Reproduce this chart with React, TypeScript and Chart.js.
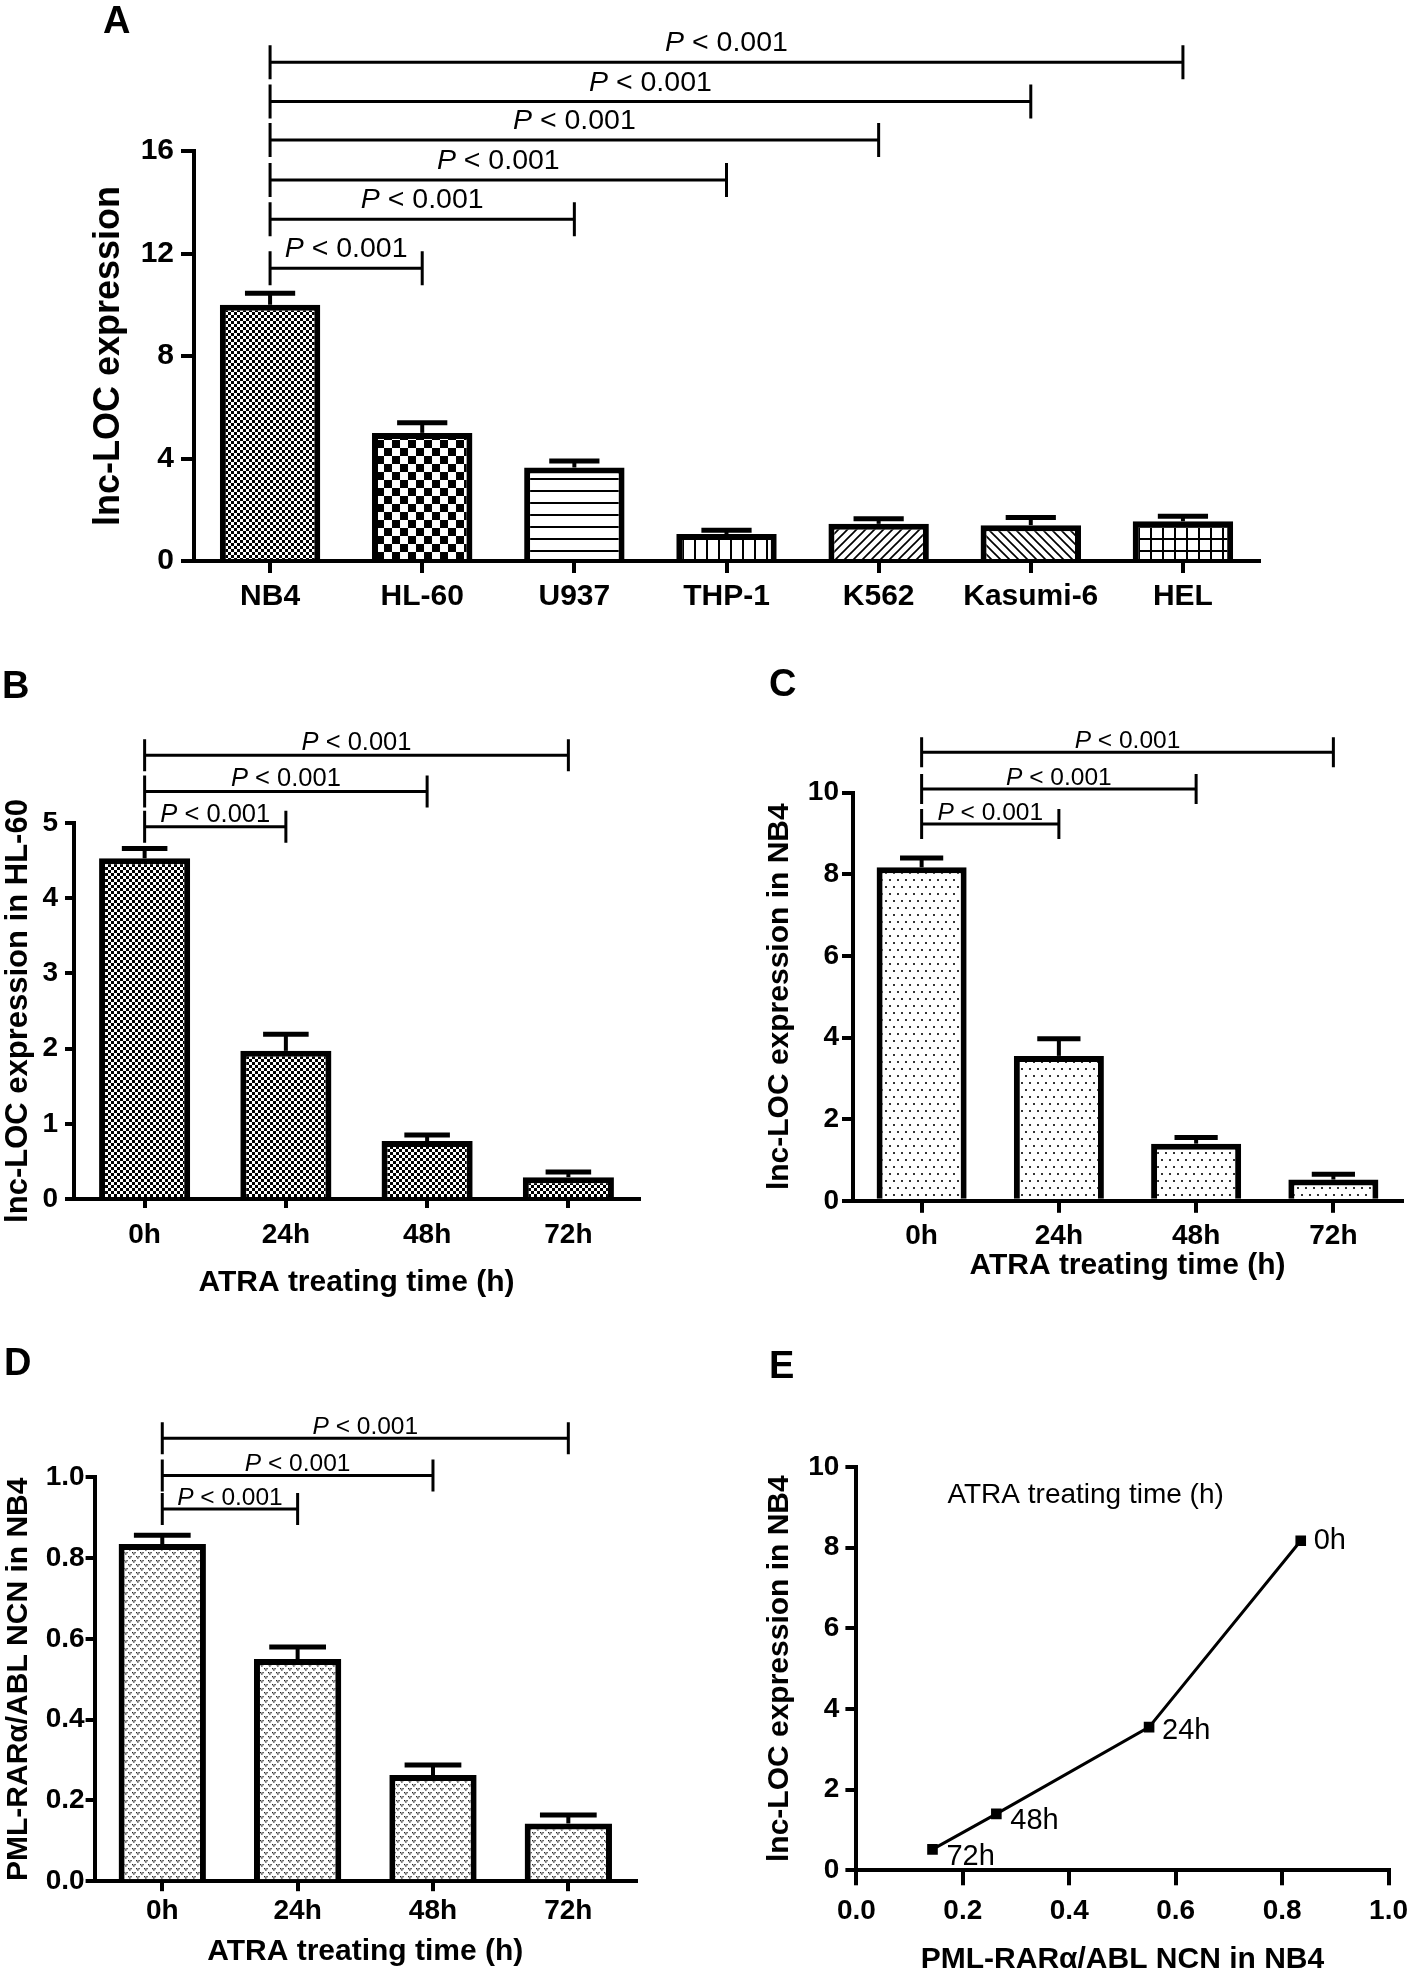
import React, { useEffect, useRef } from 'react';
import { Chart, registerables } from 'chart.js';

Chart.register(...registerables);

const FONT = '"Liberation Sans", Arial, Helvetica, sans-serif';
Chart.defaults.font.family = FONT;
Chart.defaults.color = '#000';

// ---------------- data ----------------
const cellLines = ['NB4', 'HL-60', 'U937', 'THP-1', 'K562', 'Kasumi-6', 'HEL'];
const cellExpression = [10.0, 5.0, 3.65, 1.05, 1.45, 1.4, 1.55];
const cellExpressionSem = [0.45, 0.4, 0.25, 0.15, 0.2, 0.3, 0.2];
const cellBracketLevels = [11.42, 13.34, 14.87, 16.43, 17.93, 19.46];
const cellBracketTargets = [1, 2, 3, 4, 5, 6];

const timeLabels = ['0h', '24h', '48h', '72h'];
const timeBracketTargets = [1, 2, 3];

const hl60Expression = [4.53, 1.97, 0.77, 0.29];
const hl60Sem = [0.13, 0.22, 0.08, 0.07];
const hl60BracketLevels = [4.95, 5.42, 5.9];

const nb4Expression = [8.17, 3.55, 1.4, 0.52];
const nb4Sem = [0.23, 0.42, 0.15, 0.13];
const nb4BracketLevels = [9.23, 10.09, 10.99];

const pmlRaraNcn = [0.835, 0.55, 0.263, 0.143];
const pmlRaraSem = [0.022, 0.03, 0.025, 0.021];
const pmlBracketLevels = [0.922, 1.005, 1.097];

const pValueText = ['P', ' < 0.001'];
const yTitleA = 'lnc-LOC expression';
const yTitleB = 'lnc-LOC expression in HL-60';
const yTitleNB4 = 'lnc-LOC expression in NB4';
const yTitleD = 'PML-RARα/ABL NCN in NB4';
const xTitleTime = 'ATRA treating time (h)';
const xTitleE = 'PML-RARα/ABL NCN in NB4';
const eAnnotation = 'ATRA treating time (h)';

// ---------------- patterns ----------------
function makePattern(kind: string): CanvasPattern {
  const c = document.createElement('canvas');
  const sizes: any = {
    checkFine: [6, 6], checkBold: [16, 16], hLines: [12, 12], vLines: [12, 12],
    fwd: [9, 9], back: [9, 9], grid: [12, 12], dots: [8, 14], chev: [8, 8],
  };
  const [w, h] = sizes[kind];
  c.width = w; c.height = h;
  const ctx = c.getContext('2d')!;
  ctx.fillStyle = '#fff';
  ctx.fillRect(0, 0, w, h);
  ctx.fillStyle = '#000';
  ctx.strokeStyle = '#000';
  switch (kind) {
    case 'checkFine':
      ctx.fillRect(0, 0, 3, 3); ctx.fillRect(3, 3, 3, 3); break;
    case 'checkBold':
      ctx.fillRect(0, 0, 8, 8); ctx.fillRect(8, 8, 8, 8); break;
    case 'hLines':
      ctx.fillRect(0, 10, 12, 2); break;
    case 'vLines':
      ctx.fillRect(10, 0, 2, 12); break;
    case 'grid':
      ctx.fillRect(10, 0, 2, 12); ctx.fillRect(0, 10, 12, 2); break;
    case 'fwd':
    case 'back': {
      ctx.lineWidth = 1.7;
      const segs = kind === 'fwd'
        ? [[-2, w + 2, w + 2, -2], [-2, 2, 2, -2], [w - 2, w + 2, w + 2, w - 2]]
        : [[-2, -2, w + 2, h + 2], [-2, h - 2, 2, h + 2], [w - 2, -2, w + 2, 2]];
      segs.forEach(([a, b, cc, d]) => { ctx.beginPath(); ctx.moveTo(a, b); ctx.lineTo(cc, d); ctx.stroke(); });
      break;
    }
    case 'dots':
      ctx.fillStyle = '#333';
      ctx.fillRect(1, 2, 2, 2); ctx.fillRect(5, 9, 2, 2); break;
    case 'chev': {
      ctx.fillStyle = '#222';
      const v = (x: number, y: number) => {
        ctx.fillRect(x, y, 1.3, 1.3); ctx.fillRect(x + 2.4, y, 1.3, 1.3); ctx.fillRect(x + 1.2, y + 1.3, 1.3, 1.4);
      };
      v(0, 0); v(4, 4);
      break;
    }
  }
  return ctx.createPattern(c, 'repeat')!;
}

// ---------------- drawing helpers ----------------
function drawPLabel(ctx: CanvasRenderingContext2D, cx: number, baseY: number, size: number) {
  const it = `italic ${size}px ${FONT}`;
  const rg = `${size}px ${FONT}`;
  ctx.font = it;
  const wP = ctx.measureText(pValueText[0]).width;
  ctx.font = rg;
  const wR = ctx.measureText(pValueText[1]).width;
  const x = cx - (wP + wR) / 2;
  ctx.textAlign = 'left';
  ctx.textBaseline = 'alphabetic';
  ctx.fillStyle = '#000';
  ctx.font = it;
  ctx.fillText(pValueText[0], x, baseY);
  ctx.font = rg;
  ctx.fillText(pValueText[1], x + wP, baseY);
}

function drawLetter(ctx: CanvasRenderingContext2D, letter: string, x: number, y: number) {
  ctx.save();
  ctx.font = `bold 38px ${FONT}`;
  ctx.fillStyle = '#000';
  ctx.textAlign = 'left';
  ctx.textBaseline = 'alphabetic';
  ctx.fillText(letter, x, y);
  ctx.restore();
}

type Frame = { W: number; H: number; L: number; T: number; R: number; B: number };

function gridOpts(tickLength: number) {
  return {
    display: true, drawOnChartArea: false, drawTicks: true, tickLength,
    tickWidth: 4, tickColor: '#000', color: '#000', lineWidth: 4, offset: false,
  };
}
const borderOpts = { display: true, color: '#000', width: 4 };

function barConfig(p: any) {
  const f: Frame = p.frame;
  const annot = {
    id: 'annot',
    afterDatasetsDraw(chart: any) {
      const ctx = chart.ctx as CanvasRenderingContext2D;
      const xs = chart.scales.x;
      const ys = chart.scales.y;
      const meta = chart.getDatasetMeta(0);
      ctx.save();
      ctx.strokeStyle = '#000';
      ctx.lineCap = 'butt';
      // error bars (SEM, upper only)
      meta.data.forEach((bar: any, i: number) => {
        const top = ys.getPixelForValue(p.values[i] + p.errs[i]);
        const capW = bar.width * p.capFrac;
        ctx.lineWidth = 4;
        ctx.beginPath(); ctx.moveTo(bar.x, bar.y); ctx.lineTo(bar.x, top); ctx.stroke();
        ctx.lineWidth = 5;
        ctx.beginPath(); ctx.moveTo(bar.x - capW / 2, top); ctx.lineTo(bar.x + capW / 2, top); ctx.stroke();
      });
      // significance brackets
      p.levels.forEach((lv: number, k: number) => {
        const x0 = xs.getPixelForValue(0);
        const x1 = xs.getPixelForValue(p.targets[k]);
        const y = ys.getPixelForValue(lv);
        ctx.lineWidth = 3;
        ctx.beginPath();
        ctx.moveTo(x0, y); ctx.lineTo(x1, y);
        ctx.moveTo(x0, y - p.bTick); ctx.lineTo(x0, y + p.bTick);
        ctx.moveTo(x1, y - p.bTick); ctx.lineTo(x1, y + p.bTick);
        ctx.stroke();
        drawPLabel(ctx, (x0 + x1) / 2, y - p.bGap, p.pSize);
      });
      ctx.restore();
      drawLetter(ctx, p.letter, p.letterX, p.letterY);
    },
  };
  return {
    type: 'bar',
    data: {
      labels: p.labels,
      datasets: [{
        data: p.values,
        backgroundColor: p.fills,
        borderColor: '#000',
        borderWidth: 6,
        barPercentage: p.barPct,
        categoryPercentage: 1,
      }],
    },
    options: {
      responsive: false,
      animation: false,
      devicePixelRatio: 1,
      layout: { padding: { left: 0, top: f.T, right: f.W - f.R, bottom: 0 } },
      plugins: { legend: { display: false }, tooltip: { enabled: false } },
      scales: {
        x: {
          type: 'category',
          offset: true,
          border: borderOpts,
          grid: gridOpts(p.xTickLen),
          ticks: { font: { size: p.xTickFont, weight: 'bold' }, color: '#000', padding: p.xTickPad, maxRotation: 0, autoSkip: false },
          title: p.xTitle
            ? { display: true, text: p.xTitle, color: '#000', font: { size: 30, weight: 'bold' }, padding: { top: 0, bottom: p.xTitlePad } }
            : { display: false },
          afterFit: (s: any) => { s.height = f.H - f.B; },
        },
        y: {
          type: 'linear',
          min: p.yMin, max: p.yMax,
          border: borderOpts,
          grid: gridOpts(p.yTickLen),
          ticks: {
            stepSize: p.yStep, font: { size: p.yTickFont, weight: 'bold' }, color: '#000', padding: p.yTickPad,
            callback: p.yFmt ? p.yFmt : (v: any) => String(v),
          },
          title: { display: true, text: p.yTitle, color: '#000', font: { size: p.yTitleSize, weight: 'bold' }, padding: { top: p.yTitlePad, bottom: 0 } },
          afterFit: (s: any) => { s.width = f.L; },
        },
      },
    },
    plugins: [annot],
  };
}

function scatterConfig() {
  const f: Frame = { W: 717, H: 660, L: 156.4, T: 127, R: 697.3, B: 530.3 };
  const labelDx = [13, 13, 14, 14];
  const labelDy = [0, 4, 7, 8];
  const annot = {
    id: 'annotE',
    afterDatasetsDraw(chart: any) {
      const ctx = chart.ctx as CanvasRenderingContext2D;
      const xs = chart.scales.x;
      const ys = chart.scales.y;
      ctx.save();
      ctx.fillStyle = '#000';
      ctx.textAlign = 'left';
      ctx.textBaseline = 'middle';
      ctx.font = `29px ${FONT}`;
      pmlRaraNcn.forEach((x, i) => {
        ctx.fillText(timeLabels[i], xs.getPixelForValue(x) + labelDx[i], ys.getPixelForValue(nb4Expression[i]) + labelDy[i]);
      });
      ctx.font = `28px ${FONT}`;
      ctx.fillText(eAnnotation, xs.getPixelForValue(0.171), ys.getPixelForValue(9.31));
      ctx.restore();
      drawLetter(ctx, 'E', 69, 38);
    },
  };
  return {
    type: 'scatter',
    data: {
      datasets: [{
        data: pmlRaraNcn.map((x, i) => ({ x, y: nb4Expression[i] })),
        showLine: true,
        borderColor: '#000',
        borderWidth: 3,
        backgroundColor: '#000',
        pointStyle: 'rect',
        pointRadius: 7.5,
        pointBackgroundColor: '#000',
        pointBorderWidth: 0,
      }],
    },
    options: {
      responsive: false,
      animation: false,
      devicePixelRatio: 1,
      layout: { padding: { left: 0, top: f.T, right: f.W - f.R, bottom: 0 } },
      plugins: { legend: { display: false }, tooltip: { enabled: false } },
      scales: {
        x: {
          type: 'linear', position: 'bottom', min: 0, max: 1,
          border: borderOpts,
          grid: gridOpts(15),
          ticks: { stepSize: 0.2, font: { size: 28, weight: 'bold' }, color: '#000', padding: 9, maxRotation: 0, callback: (v: any) => Number(v).toFixed(1) },
          title: { display: true, text: xTitleE, color: '#000', font: { size: 30, weight: 'bold' }, padding: { top: 0, bottom: 22 } },
          afterFit: (s: any) => { s.height = f.H - f.B; },
        },
        y: {
          type: 'linear', min: 0, max: 10,
          border: borderOpts,
          grid: gridOpts(11),
          ticks: { stepSize: 2, font: { size: 28, weight: 'bold' }, color: '#000', padding: 6 },
          title: { display: true, text: yTitleNB4, color: '#000', font: { size: 30, weight: 'bold' }, padding: { top: 62, bottom: 0 } },
          afterFit: (s: any) => { s.width = f.L; },
        },
      },
    },
    plugins: [annot],
  };
}

function ChartBox(props: { left: number; top: number; width: number; height: number; make: () => any }) {
  const ref = useRef<HTMLCanvasElement>(null);
  useEffect(() => {
    const chart = new Chart(ref.current as HTMLCanvasElement, props.make());
    return () => chart.destroy();
  }, []);
  return (
    <canvas
      ref={ref}
      width={props.width}
      height={props.height}
      style={{ position: 'absolute', left: props.left, top: props.top, width: props.width, height: props.height }}
    />
  );
}

export default function App() {
  useEffect(() => {
    document.body.style.margin = '0';
    document.body.style.overflow = 'hidden';
  }, []);

  const makeA = () => barConfig({
    frame: { W: 1417, H: 640, L: 194, T: 151, R: 1259, B: 561 },
    labels: cellLines, values: cellExpression, errs: cellExpressionSem,
    fills: ['checkFine', 'checkBold', 'hLines', 'vLines', 'fwd', 'back', 'grid'].map(makePattern),
    barPct: 0.66, capFrac: 0.5,
    yMin: 0, yMax: 16, yStep: 4, yTickFont: 30, xTickFont: 30,
    yTickLen: 13, yTickPad: 7, xTickLen: 12, xTickPad: 6,
    yTitle: yTitleA, yTitleSize: 36, yTitlePad: 87,
    levels: cellBracketLevels, targets: cellBracketTargets, bTick: 17, bGap: 11, pSize: 28.5,
    letter: 'A', letterX: 103, letterY: 33,
  });
  const makeB = () => barConfig({
    frame: { W: 700, H: 680, L: 74, T: 163, R: 639, B: 539 },
    labels: timeLabels, values: hl60Expression, errs: hl60Sem,
    fills: timeLabels.map(() => makePattern('checkFine')),
    barPct: 0.645, capFrac: 0.5,
    yMin: 0, yMax: 5, yStep: 1, yTickFont: 28, xTickFont: 28,
    yTickLen: 9, yTickPad: 7, xTickLen: 9, xTickPad: 10,
    yTitle: yTitleB, yTitleSize: 31, yTitlePad: 0,
    xTitle: xTitleTime, xTitlePad: 39,
    levels: hl60BracketLevels, targets: timeBracketTargets, bTick: 16, bGap: 5, pSize: 25.5,
    letter: 'B', letterX: 2, letterY: 38,
  });
  const makeC = () => barConfig({
    frame: { W: 717, H: 680, L: 153, T: 132.6, R: 702, B: 540.8 },
    labels: timeLabels, values: nb4Expression, errs: nb4Sem,
    fills: timeLabels.map(() => makePattern('dots')),
    barPct: 0.656, capFrac: 0.48,
    yMin: 0, yMax: 10, yStep: 2, yTickFont: 28, xTickFont: 28,
    yTickLen: 11, yTickPad: 3, xTickLen: 12, xTickPad: 7,
    yTitle: yTitleNB4, yTitleSize: 30, yTitlePad: 62,
    xTitle: xTitleTime, xTitlePad: 56,
    levels: nb4BracketLevels, targets: timeBracketTargets, bTick: 15, bGap: 4, pSize: 24.5,
    letter: 'C', letterX: 69, letterY: 36,
  });
  const makeD = () => barConfig({
    frame: { W: 700, H: 630, L: 94.6, T: 137.4, R: 636, B: 541.2 },
    labels: timeLabels, values: pmlRaraNcn, errs: pmlRaraSem,
    fills: timeLabels.map(() => makePattern('chev')),
    barPct: 0.645, capFrac: 0.65,
    yMin: 0, yMax: 1, yStep: 0.2, yFmt: (v: any) => Number(v).toFixed(1), yTickFont: 28, xTickFont: 28,
    yTickLen: 9, yTickPad: 1, xTickLen: 10, xTickPad: 3,
    yTitle: yTitleD, yTitleSize: 30, yTitlePad: 1,
    xTitle: xTitleTime, xTitlePad: 0,
    levels: pmlBracketLevels, targets: timeBracketTargets, bTick: 16, bGap: 4, pSize: 24.5,
    letter: 'D', letterX: 4, letterY: 35,
  });

  return (
    <div style={{ position: 'absolute', left: 0, top: 0, width: 1417, height: 1970, overflow: 'hidden', background: '#fff' }}>
      <ChartBox left={0} top={0} width={1417} height={640} make={makeA} />
      <ChartBox left={0} top={660} width={700} height={680} make={makeB} />
      <ChartBox left={700} top={660} width={717} height={680} make={makeC} />
      <ChartBox left={0} top={1340} width={700} height={630} make={makeD} />
      <ChartBox left={700} top={1340} width={717} height={660} make={scatterConfig} />
    </div>
  );
}
